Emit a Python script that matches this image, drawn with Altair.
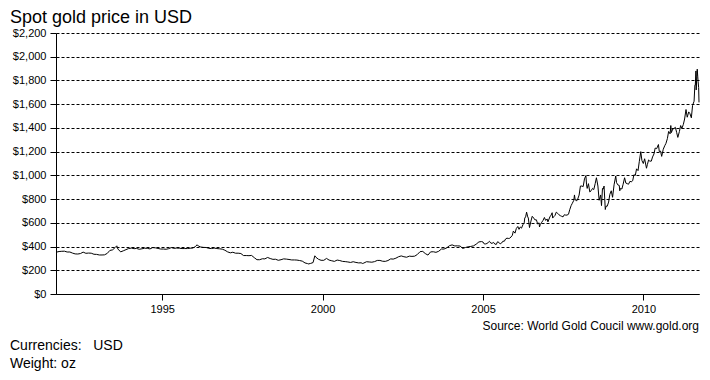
import altair as alt
import pandas as pd

# ---- data (USD per troy ounce) ----
title_text = "Spot gold price in USD"
source_text = "Source: World Gold Coucil www.gold.org"
currency_text = "Currencies:\u00a0\u00a0 USD"
weight_text = "Weight: oz"

# monthly levels (mid-month), Oct 1991 .. Dec 2004
monthly_prices = [
    358, 360, 361,
    354, 354, 345, 338, 337, 341, 353, 343, 345, 344, 335, 334,
    329, 329, 330, 342, 367, 372, 392, 379, 355, 364, 374, 383,
    387, 382, 384, 377, 381, 386, 385, 380, 391, 389, 384, 379,
    379, 377, 382, 391, 385, 387, 386, 383, 383, 383, 386, 387,
    400, 405, 396, 393, 392, 385, 383, 387, 383, 381, 378, 369,
    355, 347, 352, 344, 344, 341, 324, 324, 323, 325, 306, 289,
    289, 297, 296, 308, 299, 292, 293, 284, 289, 296, 294, 291,
    287, 287, 286, 282, 277, 262, 256, 257, 265, 311, 293, 284,
    284, 300, 286, 280, 275, 286, 282, 275, 273, 270, 266, 272,
    266, 262, 263, 261, 272, 270, 268, 273, 283, 283, 276, 275,
    282, 296, 294, 302, 314, 321, 314, 310, 319, 317, 319, 333,
    357, 359, 341, 328, 355, 356, 351, 360, 379, 379, 389, 407,
    414, 405, 406, 404, 384, 392, 398, 401, 406, 420, 439, 442,
]

# isolated highs / lows visible in the early years
extreme_dates = ["1991-09-10", "1993-08-02", "1996-02-02", "1999-07-20", "1999-10-05", "2001-04-02"]
extreme_prices = [352, 406, 415, 253, 322, 257]

# denser readings 2005 .. Sep 2011
late_dates = [
    "2005-01-01", "2005-01-15", "2005-02-01", "2005-02-15", "2005-03-01", "2005-03-15",
    "2005-04-01", "2005-04-15", "2005-05-01", "2005-05-15", "2005-06-01", "2005-06-15",
    "2005-07-01", "2005-07-15", "2005-08-01", "2005-08-15", "2005-09-01", "2005-09-15",
    "2005-10-01", "2005-10-15", "2005-11-01", "2005-11-15", "2005-12-01", "2005-12-12",
    "2005-12-31",
    "2006-01-15", "2006-02-01", "2006-02-15", "2006-03-01", "2006-03-15", "2006-04-01",
    "2006-04-15", "2006-04-21", "2006-05-01", "2006-05-12", "2006-05-25", "2006-06-01",
    "2006-06-14", "2006-07-01", "2006-07-15", "2006-08-01", "2006-08-15", "2006-09-01",
    "2006-09-15", "2006-10-01", "2006-10-06", "2006-10-15", "2006-11-01", "2006-11-15",
    "2006-12-01", "2006-12-15",
    "2007-01-01", "2007-01-10", "2007-02-01", "2007-02-15", "2007-02-27", "2007-03-05",
    "2007-03-15", "2007-04-01", "2007-04-15", "2007-05-01", "2007-05-15", "2007-06-01",
    "2007-06-15", "2007-07-01", "2007-07-15", "2007-08-01", "2007-08-15", "2007-09-01",
    "2007-09-15", "2007-10-01", "2007-10-15", "2007-11-01", "2007-11-08", "2007-11-15",
    "2007-12-01", "2007-12-15", "2007-12-31",
    "2008-01-15", "2008-02-01", "2008-02-15", "2008-03-01", "2008-03-17", "2008-03-25",
    "2008-04-01", "2008-04-15", "2008-05-01", "2008-05-15", "2008-06-01", "2008-06-15",
    "2008-07-01", "2008-07-15", "2008-08-01", "2008-08-15", "2008-09-01", "2008-09-11",
    "2008-09-22", "2008-10-01", "2008-10-10", "2008-10-24", "2008-11-01", "2008-11-15",
    "2008-12-01", "2008-12-15", "2008-12-31",
    "2009-01-15", "2009-02-01", "2009-02-20", "2009-03-01", "2009-03-15", "2009-04-01",
    "2009-04-07", "2009-04-15", "2009-05-01", "2009-05-15", "2009-06-01", "2009-06-15",
    "2009-07-01", "2009-07-15", "2009-08-01", "2009-08-15", "2009-09-01", "2009-09-15",
    "2009-10-01", "2009-10-15", "2009-11-01", "2009-11-15", "2009-12-02", "2009-12-15",
    "2009-12-31",
    "2010-01-15", "2010-02-05", "2010-02-15", "2010-03-01", "2010-03-15", "2010-04-01",
    "2010-04-15", "2010-05-01", "2010-05-15", "2010-06-01", "2010-06-21", "2010-07-01",
    "2010-07-15", "2010-07-28", "2010-08-15", "2010-09-01", "2010-09-15", "2010-10-01",
    "2010-10-15", "2010-11-01", "2010-11-09", "2010-11-15", "2010-12-01", "2010-12-15",
    "2010-12-31",
    "2011-01-15", "2011-01-28", "2011-02-15", "2011-03-01", "2011-03-15", "2011-04-01",
    "2011-04-15", "2011-05-01", "2011-05-15", "2011-06-01", "2011-06-15", "2011-07-01",
    "2011-07-15", "2011-08-01", "2011-08-10", "2011-08-15", "2011-08-22", "2011-08-25",
    "2011-09-01", "2011-09-06", "2011-09-12", "2011-09-16", "2011-09-22", "2011-09-26",
]
late_prices = [
    438, 422, 422, 426, 434, 444,
    428, 428, 435, 421, 418, 440,
    435, 422, 430, 445, 445, 464,
    471, 468, 470, 480, 495, 530,
    513,
    552, 569, 545, 565, 555, 585,
    600, 640, 650, 690, 650, 640,
    560, 615, 655, 640, 625, 625,
    590, 600, 565, 585, 605, 620,
    645, 620,
    632, 608, 650, 665, 685, 640,
    650, 663, 690, 680, 668, 660,
    655, 650, 668, 665, 665, 672,
    710, 745, 765, 790, 835, 800,
    783, 800, 834,
    910, 910, 905, 970, 998, 920,
    890, 930, 860, 870, 890, 880,
    930, 980, 910, 790, 835, 745,
    890, 885, 910, 712, 740, 740,
    775, 840, 870,
    815, 920, 995, 940, 920, 915,
    870, 890, 885, 925, 980, 935,
    930, 925, 950, 945, 955, 1005,
    1000, 1055, 1040, 1115, 1200, 1125,
    1100,
    1140, 1060, 1090, 1130, 1120, 1120,
    1155, 1180, 1230, 1225, 1260, 1200,
    1205, 1160, 1220, 1250, 1270, 1310,
    1370, 1350, 1420, 1360, 1390, 1395,
    1405,
    1360, 1320, 1370, 1420, 1395, 1430,
    1475, 1555, 1490, 1535, 1520, 1485,
    1590, 1625, 1760, 1760, 1880, 1720,
    1830, 1895, 1830, 1790, 1740, 1615,
]

y_ticks = [0, 200, 400, 600, 800, 1000, 1200, 1400, 1600, 1800, 2000, 2200]
x_tick_years = [1995, 2000, 2005, 2010]

# ---- assemble table ----
monthly_dates = pd.date_range("1991-10-01", periods=len(monthly_prices), freq="MS") + pd.Timedelta(days=14)
df = pd.concat([
    pd.DataFrame({"date": monthly_dates, "price": monthly_prices}),
    pd.DataFrame({"date": pd.to_datetime(extreme_dates), "price": extreme_prices}),
    pd.DataFrame({"date": pd.to_datetime(late_dates), "price": late_prices}),
]).sort_values("date").reset_index(drop=True)

FONT = "Liberation Sans"

line = alt.Chart(df).mark_line(color="black", strokeWidth=1).encode(
    x=alt.X(
        "date:T",
        title=None,
        scale=alt.Scale(domain=[alt.DateTime(year=1991, month=9, date=10),
                                alt.DateTime(year=2011, month=9, date=26)]),
        axis=alt.Axis(
            values=[alt.DateTime(year=y, month=1, date=1) for y in x_tick_years],
            format="%Y", grid=False, tickSize=6, labelPadding=3,
        ),
    ),
    y=alt.Y(
        "price:Q",
        title=None,
        scale=alt.Scale(domain=[0, 2200], nice=False),
        axis=alt.Axis(values=y_ticks, format="$,.0f", grid=True, tickSize=6,
                      labelPadding=4, gridDash=[3, 2], gridColor="black",
                      gridOpacity=1, gridWidth=1),
    ),
)

def note(text, x, y, size, align="left"):
    return alt.Chart(pd.DataFrame({"t": [text]})).mark_text(
        align=align, baseline="alphabetic", font=FONT, fontSize=size, color="black"
    ).encode(text="t:N", x=alt.value(x), y=alt.value(y))

chart = alt.layer(
    line,
    note(title_text, -46, -10, 18),
    note(source_text, 643, 297, 12, align="right"),
    note(currency_text, -46, 317, 14),
    note(weight_text, -46, 335, 14),
).properties(
    width=643, height=261,
    autosize=alt.AutoSizeParams(type="none"),
    padding={"left": 48, "top": 25, "right": 2, "bottom": 78},
).configure_view(strokeWidth=0).configure_axis(
    domainColor="black", tickColor="black", labelColor="black",
    labelFont=FONT, labelFontSize=11, domainWidth=1, tickWidth=1,
)

chart.save("out.html", embed_options={"renderer": "svg", "actions": False})
